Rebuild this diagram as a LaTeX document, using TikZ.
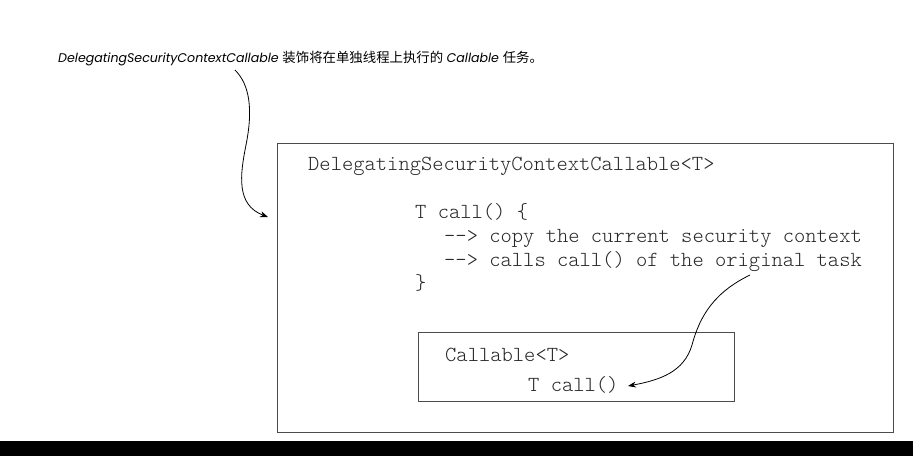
\documentclass[tikz,border=0pt]{standalone}
\usepackage{fontspec}
\setmainfont{Poppins}
\newfontfamily\cjk{Noto Sans CJK SC}
\newfontfamily\codefont{lmmonolt10-regular.otf}
\usetikzlibrary{arrows.meta}
\tikzset{
  boxline/.style={draw=black!70, line width=1pt},
  code/.style={font=\fontsize{21.5}{22}\selectfont\codefont, anchor=base west, inner sep=0pt, text=black!85},
  captext/.style={font=\fontsize{12.6}{14}\selectfont, anchor=base west, inner sep=0pt},
  curvearrow/.style={draw=black, line width=0.8pt, -{Stealth[length=8pt,width=6pt]}}
}
\begin{document}
\begin{tikzpicture}[x=1pt,y=-1pt]
\useasboundingbox (0,0) rectangle (913,456);
\fill[black] (0,441) rectangle (913,456);
% caption
\node[captext] (caption) at (58,62) {\itshape DelegatingSecurityContextCallable\/ \upshape{\cjk\fontsize{13.4}{14}\selectfont 装饰将在单独线程上执行的} \itshape Callable\/ \upshape{\cjk\fontsize{13.4}{14}\selectfont 任务。}};
% outer box
\node[boxline, minimum width=616pt, minimum height=289pt, anchor=north west, inner sep=0pt] (outer) at (277,143) {};
\node[boxline, minimum width=316pt, minimum height=69pt, anchor=north west, inner sep=0pt] (inner) at (418,332) {};
% code
\node[code] (hdr) at (308,170) {DelegatingSecurityContextCallable<T>};
\node[code] (tcall) at (415,218) {T call() \{};
\node[code] (copy) at (444,242) {-{}-> copy the current security context};
\node[code] (calls) at (444,266) {-{}-> calls call() of the original task};
\node[code] (close) at (415,289) {\}};
\node[code] (callable) at (445,361) {Callable<T>};
\node[code] (innercall) at (528,391) {T call()};
% arrows
\coordinate (a1s) at (235,70);
\coordinate (a1e) at (268,217);
\draw[curvearrow] (a1s) .. controls (250,85) and (253,110) .. (246,145)
  .. controls (240,175) and (236,205) .. (a1e);
\coordinate (a2s) at (750,275);
\coordinate (a2e) at (628,386);
\draw[curvearrow] (a2s) .. controls (715,292) and (700,315) .. (692,345)
  .. controls (684,372) and (660,380) .. (a2e);
\end{tikzpicture}
\end{document}
